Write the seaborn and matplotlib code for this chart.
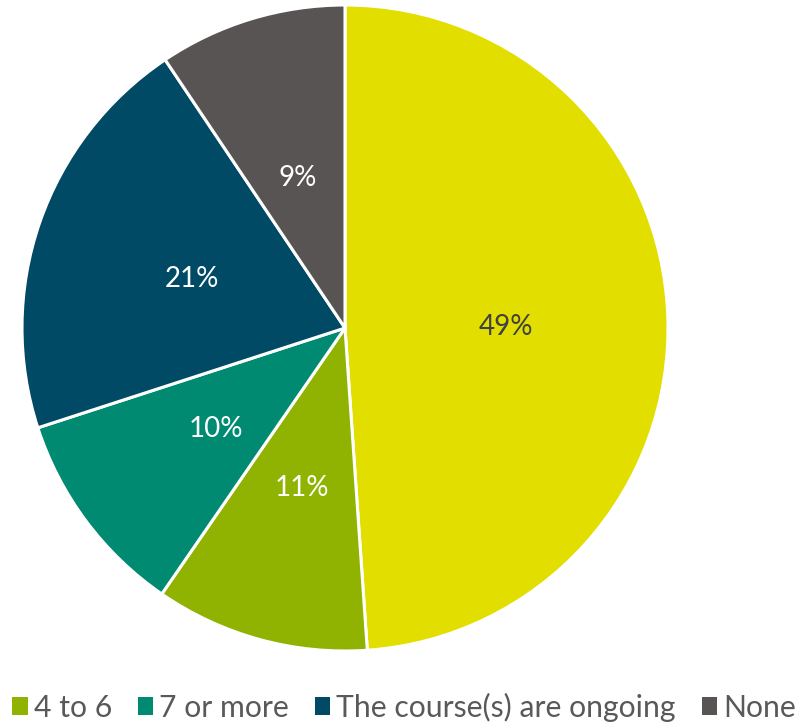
import matplotlib
matplotlib.use("Agg")
import matplotlib.pyplot as plt
import seaborn as sns
from matplotlib.patches import Patch

categories = ['1 to 3', '4 to 6', '7 or more', 'The course(s) are ongoing', 'None']
shares = [48.9, 10.7, 10.4, 20.6, 9.4]
colors = ['#E1DE00', '#8FB300', '#008A72', '#004A66', '#595454']
label_colors = ['#404040', 'white', 'white', 'white', 'white']

sns.set_theme(style="white")
plt.rcParams['font.family'] = ['Lato', 'DejaVu Sans']

fig = plt.figure(figsize=(8.1, 7.24), dpi=100)
ax = fig.add_axes([22 / 810, (724 - 651) / 724, 646 / 810, 646 / 724])

wedges, texts, autotexts = ax.pie(
    shares, colors=colors, startangle=90, counterclock=False,
    autopct='%.0f%%', pctdistance=0.5, radius=1,
    wedgeprops=dict(edgecolor='white', linewidth=2.2),
    textprops=dict(fontsize=20),
)
for t, c in zip(autotexts, label_colors):
    t.set_color(c)
    x, y = t.get_position()
    t.set_position((x, y - 0.013))
ax.set_xlim(-1.0, 1.0)
ax.set_ylim(-1.0, 1.0)
ax.axis('off')

# legend: the first (yellow) entry falls outside the canvas in the original
handles = [Patch(facecolor=c, edgecolor='none') for c in colors[1:]]
fig.legend(handles, categories[1:], loc='center left',
           bbox_to_anchor=(12 / 810, 1 - 707 / 724), ncol=4, frameon=False,
           fontsize=21.7, handlelength=0.52, handleheight=0.52,
           handletextpad=0.2, columnspacing=0.85, labelcolor='#595959',
           borderaxespad=0, borderpad=0)

fig.savefig('out.png', dpi=100)
